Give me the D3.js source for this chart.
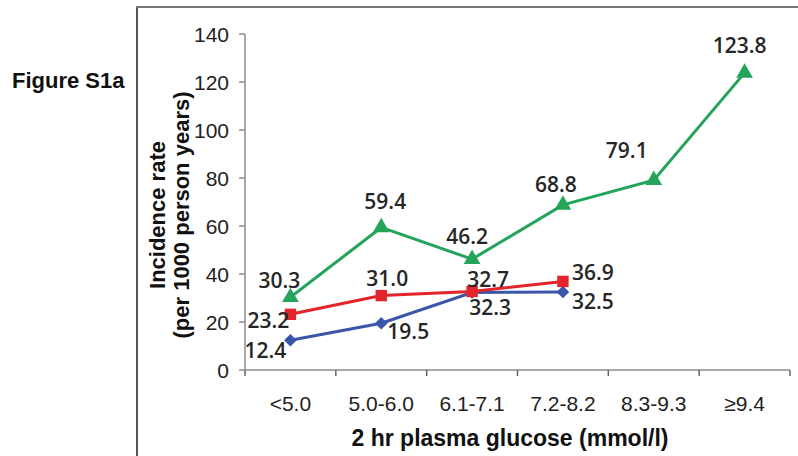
<!DOCTYPE html>
<html>
<head>
<meta charset="utf-8">
<script src="https://cdn.jsdelivr.net/npm/d3@7"></script>
<style>
  html, body { margin: 0; padding: 0; background: #fff; }
  svg { display: block; }
  .tick-lbl { font-family: "Liberation Sans", Arial, sans-serif; font-size: 21px; fill: #222; }
  .ttl { font-family: "Liberation Sans", Arial, sans-serif; font-size: 22px; font-weight: bold; fill: #111; }
  .val { font-family: "Open Sans", sans-serif; font-size: 21px; font-weight: 600; fill: #262626; }
</style>
</head>
<body>
<svg id="chart" width="798" height="456"></svg>
<script>
// categories and values
var categories = ["<5.0", "5.0-6.0", "6.1-7.1", "7.2-8.2", "8.3-9.3", "\u22659.4"];
var yTicks = [0, 20, 40, 60, 80, 100, 120, 140];

var blueVals = [12.4, 19.5, 32.3, 32.5];
var redVals = [23.2, 31.0, 32.7, 36.9];
var greenVals = [30.3, 59.4, 46.2, 68.8, 79.1, 123.8];

// label offsets (dx, dy) relative to each point
var blueOffsets = [[-25, 10], [27, 8], [18, 15], [30, 10]];
var redOffsets = [[-22, 6], [6, -17], [16, -12], [30, -9]];
var greenOffsets = [[-11, -17], [4, -26], [-5, -22], [-7, -20], [-27, -30], [-5, -27]];

var svg = d3.select("#chart");

// frame round the figure
svg.append("line")
	.attr("x1", 137).attr("x2", 137).attr("y1", 6).attr("y2", 456)
	.attr("stroke", "#555").attr("stroke-width", 2);
svg.append("line")
	.attr("x1", 136).attr("x2", 798).attr("y1", 7).attr("y2", 7)
	.attr("stroke", "#777").attr("stroke-width", 2);

svg.append("text")
	.attr("class", "ttl")
	.attr("x", 12).attr("y", 88)
	.text("Figure S1a");

var x = d3.scaleBand()
	.domain(categories)
	.range([245, 790])
	.padding(0);

var y = d3.scaleLinear()
	.domain([0, 140])
	.range([370, 34]);

var cx = function(i) { return x(categories[i]) + x.bandwidth() / 2; };

// y axis
var yAxis = svg.append("g").attr("class", "y-axis");
yAxis.append("line")
	.attr("x1", 245).attr("x2", 245)
	.attr("y1", y(0)).attr("y2", y(140))
	.attr("stroke", "#8c8c8c").attr("stroke-width", 1.5);
yAxis.selectAll("line.tk")
	.data(yTicks)
	.enter()
	.append("line")
	.attr("class", "tk")
	.attr("x1", 239).attr("x2", 245)
	.attr("y1", function(d) { return y(d); })
	.attr("y2", function(d) { return y(d); })
	.attr("stroke", "#8c8c8c").attr("stroke-width", 1.5);
yAxis.selectAll("text")
	.data(yTicks)
	.enter()
	.append("text")
	.attr("class", "tick-lbl")
	.attr("x", 229)
	.attr("y", function(d) { return y(d); })
	.attr("dy", "0.36em")
	.attr("text-anchor", "end")
	.text(function(d) { return d; });

// x axis, ticks sit on the band edges
var edges = categories.map(function(c) { return x(c); }).concat([x.range()[1]]);
var xAxis = svg.append("g").attr("class", "x-axis");
xAxis.append("line")
	.attr("x1", 245).attr("x2", x.range()[1])
	.attr("y1", y(0)).attr("y2", y(0))
	.attr("stroke", "#8c8c8c").attr("stroke-width", 1.5);
xAxis.selectAll("line.tk")
	.data(edges)
	.enter()
	.append("line")
	.attr("class", "tk")
	.attr("x1", function(d) { return d; })
	.attr("x2", function(d) { return d; })
	.attr("y1", y(0)).attr("y2", y(0) + 6)
	.attr("stroke", "#666").attr("stroke-width", 1.5);
xAxis.selectAll("text")
	.data(categories)
	.enter()
	.append("text")
	.attr("class", "tick-lbl")
	.attr("x", function(d) { return x(d) + x.bandwidth() / 2; })
	.attr("y", 411)
	.attr("text-anchor", "middle")
	.text(function(d) { return d; });

svg.append("text")
	.attr("class", "ttl")
	.attr("x", 510).attr("y", 446)
	.attr("text-anchor", "middle")
	.style("font-size", "23px")
	.text("2 hr plasma glucose (mmol/l)");

var yt = svg.append("g").attr("transform", "translate(0,215) rotate(-90)");
yt.append("text").attr("class", "ttl")
	.attr("x", 0).attr("y", 165)
	.attr("text-anchor", "middle")
	.text("Incidence rate");
yt.append("text").attr("class", "ttl")
	.attr("x", 0).attr("y", 189)
	.attr("text-anchor", "middle")
	.text("(per 1000 person years)");

var line = d3.line()
	.x(function(d, i) { return cx(i); })
	.y(function(d) { return y(d); });

function drawSeries(vals, color, symbolType, size, rot) {
	var g = svg.append("g");
	g.append("path")
		.datum(vals)
		.attr("d", line)
		.attr("fill", "none")
		.attr("stroke", color)
		.attr("stroke-width", 3);
	g.selectAll("path.mk")
		.data(vals)
		.enter()
		.append("path")
		.attr("class", "mk")
		.attr("d", d3.symbol().type(symbolType).size(size))
		.attr("transform", function(d, i) {
			return "translate(" + cx(i) + "," + y(d) + ") rotate(" + rot + ")";
		})
		.attr("fill", color);
	return g;
}

function drawLabels(vals, offsets) {
	svg.append("g").selectAll("text")
		.data(vals)
		.enter()
		.append("text")
		.attr("class", "val")
		.attr("x", function(d, i) { return cx(i) + offsets[i][0]; })
		.attr("y", function(d, i) { return y(d) + offsets[i][1]; })
		.attr("dy", "0.35em")
		.attr("text-anchor", "middle")
		.text(function(d) { return d.toFixed(1); });
}

drawSeries(greenVals, "#24a35a", d3.symbolTriangle, 120, 0);
drawSeries(blueVals, "#3b56a8", d3.symbolSquare, 80, 45);
drawSeries(redVals, "#e3242b", d3.symbolSquare, 130, 0);

drawLabels(greenVals, greenOffsets);
drawLabels(redVals, redOffsets);
drawLabels(blueVals, blueOffsets);
</script>
</body>
</html>
